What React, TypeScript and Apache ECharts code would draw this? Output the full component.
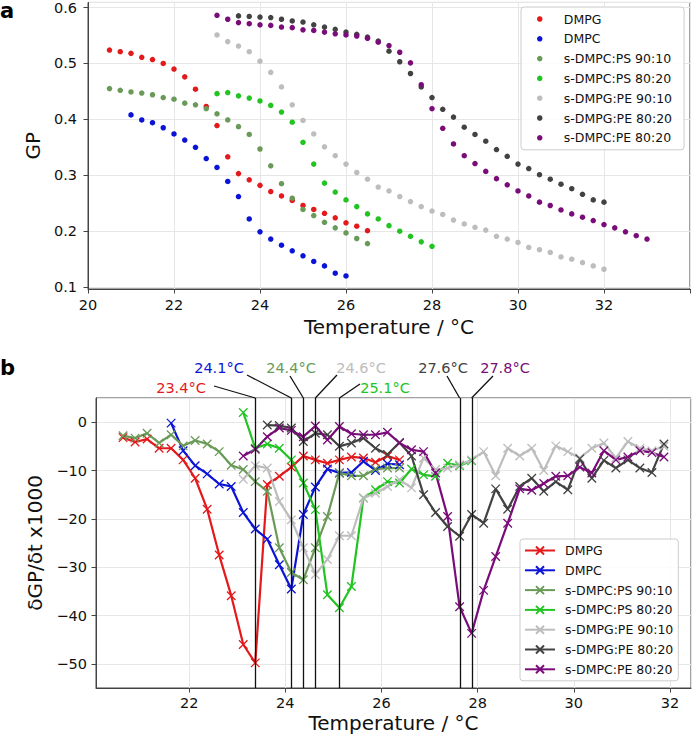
import React, { useEffect, useRef } from 'react';
import * as echarts from 'echarts';

// ---------- data ----------
const TEMP_A = [20.5, 20.75, 21, 21.25, 21.5, 21.75, 22, 22.25, 22.5, 22.75, 23, 23.25, 23.5, 23.75, 24, 24.25, 24.5, 24.75, 25, 25.25, 25.5, 25.75, 26, 26.25, 26.5, 26.75, 27, 27.25, 27.5, 27.75, 28, 28.25, 28.5, 28.75, 29, 29.25, 29.5, 29.75, 30, 30.25, 30.5, 30.75, 31, 31.25, 31.5, 31.75, 32, 32.25, 32.5, 32.75, 33];
const TEMP_B = [20.625, 20.875, 21.125, 21.375, 21.625, 21.875, 22.125, 22.375, 22.625, 22.875, 23.125, 23.375, 23.625, 23.875, 24.125, 24.375, 24.625, 24.875, 25.125, 25.375, 25.625, 25.875, 26.125, 26.375, 26.625, 26.875, 27.125, 27.375, 27.625, 27.875, 28.125, 28.375, 28.625, 28.875, 29.125, 29.375, 29.625, 29.875, 30.125, 30.375, 30.625, 30.875, 31.125, 31.375, 31.625, 31.875];

const NAMES = ['DMPG', 'DMPC', 's-DMPC:PS 90:10', 's-DMPC:PS 80:20', 's-DMPG:PE 90:10', 's-DMPG:PE 80:20', 's-DMPC:PE 80:20'];
const COLORS = ['#e3191b', '#0b14d6', '#6a9a58', '#22c422', '#bdbdbd', '#424242', '#7a0c7a'];

// panel a: GP
const GP_START = [20.5, 21.0, 20.5, 23.0, 23.0, 23.5, 23.0];
const GP_DMPG = [0.524, 0.521, 0.518, 0.511, 0.507, 0.500, 0.490, 0.476, 0.454, 0.423, 0.389, 0.333, 0.303, 0.292, 0.282, 0.271, 0.263, 0.255, 0.246, 0.239, 0.232, 0.224, 0.215, 0.209, 0.201];
const GP_DMPC = [0.408, 0.399, 0.394, 0.385, 0.374, 0.363, 0.350, 0.330, 0.314, 0.289, 0.262, 0.222, 0.199, 0.186, 0.175, 0.165, 0.156, 0.146, 0.138, 0.125, 0.120];
const GP_PS9010 = [0.455, 0.452, 0.449, 0.447, 0.444, 0.439, 0.436, 0.429, 0.426, 0.419, 0.410, 0.399, 0.387, 0.373, 0.347, 0.317, 0.285, 0.259, 0.239, 0.228, 0.216, 0.206, 0.197, 0.187, 0.178];
const GP_PS8020 = [0.446, 0.448, 0.442, 0.438, 0.433, 0.425, 0.413, 0.395, 0.359, 0.320, 0.286, 0.270, 0.256, 0.244, 0.231, 0.222, 0.210, 0.200, 0.191, 0.181, 0.173];
const GP_PGPE9010 = [0.551, 0.539, 0.531, 0.521, 0.504, 0.484, 0.458, 0.426, 0.398, 0.374, 0.351, 0.335, 0.320, 0.305, 0.293, 0.279, 0.272, 0.262, 0.253, 0.244, 0.236, 0.230, 0.220, 0.213, 0.207, 0.202, 0.191, 0.186, 0.180, 0.171, 0.167, 0.162, 0.154, 0.150, 0.144, 0.138, 0.132];
const GP_PGPE8020 = [0.585, 0.584, 0.583, 0.582, 0.579, 0.576, 0.574, 0.569, 0.565, 0.561, 0.556, 0.552, 0.547, 0.540, 0.522, 0.503, 0.482, 0.458, 0.439, 0.418, 0.404, 0.386, 0.373, 0.361, 0.346, 0.334, 0.320, 0.312, 0.301, 0.293, 0.284, 0.276, 0.266, 0.256, 0.252];
const GP_PCPE8020 = [0.586, 0.579, 0.573, 0.571, 0.569, 0.568, 0.565, 0.564, 0.560, 0.559, 0.556, 0.553, 0.551, 0.549, 0.545, 0.538, 0.532, 0.520, 0.501, 0.462, 0.419, 0.384, 0.356, 0.335, 0.321, 0.307, 0.294, 0.283, 0.272, 0.263, 0.252, 0.246, 0.238, 0.231, 0.225, 0.219, 0.212, 0.206, 0.199, 0.192, 0.186];
const GP_VALUES = [GP_DMPG, GP_DMPC, GP_PS9010, GP_PS8020, GP_PGPE9010, GP_PGPE8020, GP_PCPE8020];

// panel b: dGP/dt x1000
const D_START = [20.625, 21.625, 20.625, 23.125, 23.125, 23.625, 23.125];
const D_DMPG = [-3.2, -4.1, -3.5, -5.4, -5.4, -7.8, -11.6, -18.0, -27.5, -35.9, -46.0, -49.8, -12.9, -11.2, -9.3, -7.0, -7.8, -8.5, -7.8, -7.2, -7.4, -8.3, -7.0, -7.8];
const D_DMPC = [-0.2, -5.9, -9.0, -10.7, -12.8, -13.3, -18.7, -22.1, -24.2, -29.5, -34.5, -19.1, -13.4, -9.7, -10.5, -10.4, -8.1, -10.0, -8.6, -8.8];
const D_PS9010 = [-2.8, -3.3, -2.3, -4.3, -2.6, -4.9, -3.8, -4.5, -6.1, -8.9, -9.8, -12.3, -14.3, -26.0, -31.1, -32.6, -26.0, -19.5, -10.5, -11.1, -11.1, -9.7, -9.5, -9.5];
const D_PS8020 = [2.0, -5.4, -4.5, -5.4, -7.8, -12.6, -18.1, -35.7, -38.4, -34.0, -15.7, -14.0, -12.3, -12.6, -9.7, -10.9, -11.2, -8.5, -9.0, -8.0];
const D_PGPE9010 = [-11.8, -9.0, -9.5, -16.4, -20.2, -26.0, -31.5, -28.4, -23.5, -23.5, -15.7, -14.7, -13.3, -11.9, -13.6, -7.4, -9.8, -9.5, -8.8, -7.8, -6.1, -11.1, -5.4, -7.0, -5.4, -10.0, -4.9, -6.1, -7.4, -5.4, -4.3, -7.4, -4.0, -5.4, -5.9, -5.0];
const D_PGPE8020 = [-0.6, -0.7, -1.2, -4.0, -2.3, -2.6, -5.0, -4.3, -3.3, -5.4, -6.7, -4.2, -7.0, -15.0, -18.7, -21.6, -23.6, -19.1, -20.9, -13.8, -18.0, -13.3, -11.6, -14.3, -12.3, -14.0, -7.6, -11.6, -7.9, -9.5, -7.8, -9.5, -10.4, -4.5];
const D_PCPE8020 = [-7.0, -5.6, -3.0, -1.2, -1.7, -3.0, -0.8, -3.7, -0.9, -2.4, -2.6, -2.6, -2.1, -4.3, -5.7, -6.1, -10.5, -19.5, -38.2, -43.7, -34.8, -27.8, -20.9, -13.8, -14.1, -12.7, -11.2, -11.1, -9.3, -10.5, -5.9, -7.8, -7.2, -5.9, -6.3, -7.2];
const D_VALUES = [D_DMPG, D_DMPC, D_PS9010, D_PS8020, D_PGPE9010, D_PGPE8020, D_PCPE8020];

// transition temperatures marked in panel b
const TRANS_T = [23.375, 24.125, 24.375, 24.625, 25.125, 27.625, 27.875];
const TRANS_LABELS = ['23.4°C', '24.1°C', '24.4°C', '24.6°C', '25.1°C', '27.6°C', '27.8°C'];
const TRANS_SERIES = [0, 1, 2, 4, 3, 5, 6];

// annotation layout (pixels): text centre and leader-line start
const ANNOT_TEXT = [[181, 388], [219, 368], [291, 368], [361, 368], [385, 388], [443, 368], [505, 368]];
const ANNOT_FROM = [[214, 386], [247, 375], [290, 376], [337, 375], [360, 384], [447, 376], [493, 376]];

const FONT = 'DejaVu Sans';
const SUFFIX_B = '@@b';
const CROSS = 'path://M0,0L10,10M10,0L0,10';

function pairs(temps: number[], start: number, vals: number[]) {
  const i0 = temps.indexOf(start);
  return vals.map((v, i) => [temps[i0 + i], v]);
}

function isMult(v: number, step: number) {
  const r = v / step;
  return Math.abs(r - Math.round(r)) < 1e-6;
}

export default function App() {
  const ref = useRef<HTMLDivElement>(null);
  useEffect(() => {
    const chart = echarts.init(ref.current!, null, { renderer: 'svg' });
    const axisCommon = {
      axisLine: { show: true, onZero: false, lineStyle: { color: '#444', width: 1 } },
      axisTick: { show: true, inside: false, length: 4.5, lineStyle: { color: '#444', width: 1 } },
      splitLine: { show: true, lineStyle: { color: '#e6e6e6', width: 1 } },
      nameTextStyle: { fontSize: 20, color: '#111', fontFamily: FONT },
    };
    const labelCommon = { fontSize: 14.5, color: '#111', fontFamily: FONT };

    const topSeries = NAMES.map((n, i) => ({
      type: 'scatter',
      name: n,
      xAxisIndex: 0,
      yAxisIndex: 0,
      symbol: 'circle',
      symbolSize: 5.5,
      itemStyle: { color: COLORS[i], opacity: 1 },
      emphasis: { disabled: true },
      data: pairs(TEMP_A, GP_START[i], GP_VALUES[i]),
    }));

    const botSeries: any[] = NAMES.map((n, i) => ({
      type: 'line',
      name: n + SUFFIX_B,
      xAxisIndex: 1,
      yAxisIndex: 1,
      symbol: CROSS,
      symbolSize: 8.5,
      showSymbol: true,
      itemStyle: { color: COLORS[i], borderColor: COLORS[i], borderWidth: 1.3 },
      lineStyle: { color: COLORS[i], width: 2.2 },
      emphasis: { disabled: true },
      data: pairs(TEMP_B, D_START[i], D_VALUES[i]),
    }));
    botSeries[0].markLine = {
      silent: true,
      symbol: ['none', 'none'],
      label: { show: false },
      lineStyle: { color: '#111', width: 1.3, type: 'solid' },
      emphasis: { disabled: true },
      data: TRANS_T.map((t) => ({ xAxis: t })),
    };

    const option: any = {
      animation: false,
      textStyle: { fontFamily: FONT },
      grid: [
        { left: 88, top: 2, width: 604, height: 287, show: true, borderColor: '#444', borderWidth: 1 },
        { left: 96, top: 398, width: 595, height: 290, show: true, borderColor: '#444', borderWidth: 1 },
      ],
      xAxis: [
        {
          ...axisCommon,
          gridIndex: 0,
          type: 'value',
          min: 20,
          max: 34,
          interval: 2,
          axisLabel: { ...labelCommon, margin: 8, formatter: (v: number) => (v > 33.5 ? '' : String(v)) },
          name: 'Temperature / °C',
          nameLocation: 'middle',
          nameGap: 28,
        },
        {
          ...axisCommon,
          gridIndex: 1,
          type: 'value',
          min: 20.0625,
          max: 32.4375,
          splitNumber: 6,
          axisLabel: {
            ...labelCommon,
            margin: 7,
            showMinLabel: false,
            showMaxLabel: false,
            formatter: (v: number) => (isMult(v, 2) ? String(Math.round(v)) : ''),
          },
          name: 'Temperature / °C',
          nameLocation: 'middle',
          nameGap: 25,
        },
      ],
      yAxis: [
        {
          ...axisCommon,
          gridIndex: 0,
          type: 'value',
          min: 0.0967,
          max: 0.609,
          splitNumber: 5,
          axisLabel: {
            ...labelCommon,
            margin: 11,
            showMinLabel: false,
            showMaxLabel: false,
            formatter: (v: number) => (isMult(v, 0.1) ? v.toFixed(1) : ''),
          },
          name: 'GP',
          nameLocation: 'middle',
          nameGap: 35,
        },
        {
          ...axisCommon,
          gridIndex: 1,
          type: 'value',
          min: -55,
          max: 5,
          splitNumber: 6,
          axisLabel: {
            ...labelCommon,
            margin: 9,
            showMinLabel: false,
            showMaxLabel: false,
            formatter: (v: number) => (isMult(v, 10) ? (v < 0 ? '\u2212' + String(-v) : String(v)) : ''),
          },
          name: 'δGP/δt x1000',
          nameLocation: 'middle',
          nameGap: 44,
        },
      ],
      legend: [
        {
          id: 'legA',
          orient: 'vertical',
          left: 521,
          top: 7,
          padding: [5, 12, 5, 16],
          itemWidth: 38,
          itemHeight: 5.5,
          itemGap: 5.8,
          backgroundColor: 'rgba(255,255,255,0.85)',
          borderColor: '#cccccc',
          borderWidth: 1,
          borderRadius: 3,
          selectedMode: false,
          textStyle: { fontSize: 12.5, color: '#111', fontFamily: FONT, lineHeight: 14 },
          data: NAMES.map((n) => ({ name: n, icon: 'circle' })),
        },
        {
          id: 'legB',
          orient: 'vertical',
          left: 520,
          top: 539,
          padding: [4.5, 5, 4.5, 4],
          itemWidth: 30,
          itemHeight: 10,
          itemGap: 5.8,
          backgroundColor: 'rgba(255,255,255,0.85)',
          borderColor: '#cccccc',
          borderWidth: 1,
          borderRadius: 3,
          selectedMode: false,
          textStyle: { fontSize: 12.5, color: '#111', fontFamily: FONT, lineHeight: 14, padding: [0, 0, 0, 5] },
          formatter: (n: string) => n.replace(/@@b$/, ''),
          data: NAMES.map((n) => n + SUFFIX_B),
        },
      ],
      series: [...topSeries, ...botSeries],
    };
    chart.setOption(option);

    const els: any[] = [
      { type: 'text', id: 'pa', x: 0, y: 0, style: { text: 'a', fontSize: 21, fontWeight: 'bold', fontFamily: FONT, fill: '#000', align: 'left', verticalAlign: 'top' } },
      { type: 'text', id: 'pb', x: 0, y: 368, style: { text: 'b', fontSize: 21, fontWeight: 'bold', fontFamily: FONT, fill: '#000', align: 'left', verticalAlign: 'middle' } },
    ];
    TRANS_T.forEach((t, i) => {
      const p = chart.convertToPixel({ gridIndex: 1 } as any, [t, 5]) as number[];
      els.push({
        type: 'line',
        id: 'ld' + i,
        shape: { x1: ANNOT_FROM[i][0], y1: ANNOT_FROM[i][1], x2: p[0], y2: p[1] },
        style: { stroke: '#111', lineWidth: 1.3 },
        silent: true,
      });
      els.push({
        type: 'text',
        id: 'lt' + i,
        x: ANNOT_TEXT[i][0],
        y: ANNOT_TEXT[i][1],
        style: {
          text: TRANS_LABELS[i],
          fill: COLORS[TRANS_SERIES[i]],
          fontSize: 14.5,
          fontFamily: FONT,
          align: 'center',
          verticalAlign: 'middle',
        },
        silent: true,
      });
    });
    chart.setOption({ graphic: { elements: els } });

    return () => chart.dispose();
  }, []);
  return <div ref={ref} style={{ position: 'absolute', left: 0, top: 0, width: 693, height: 738 }} />;
}
